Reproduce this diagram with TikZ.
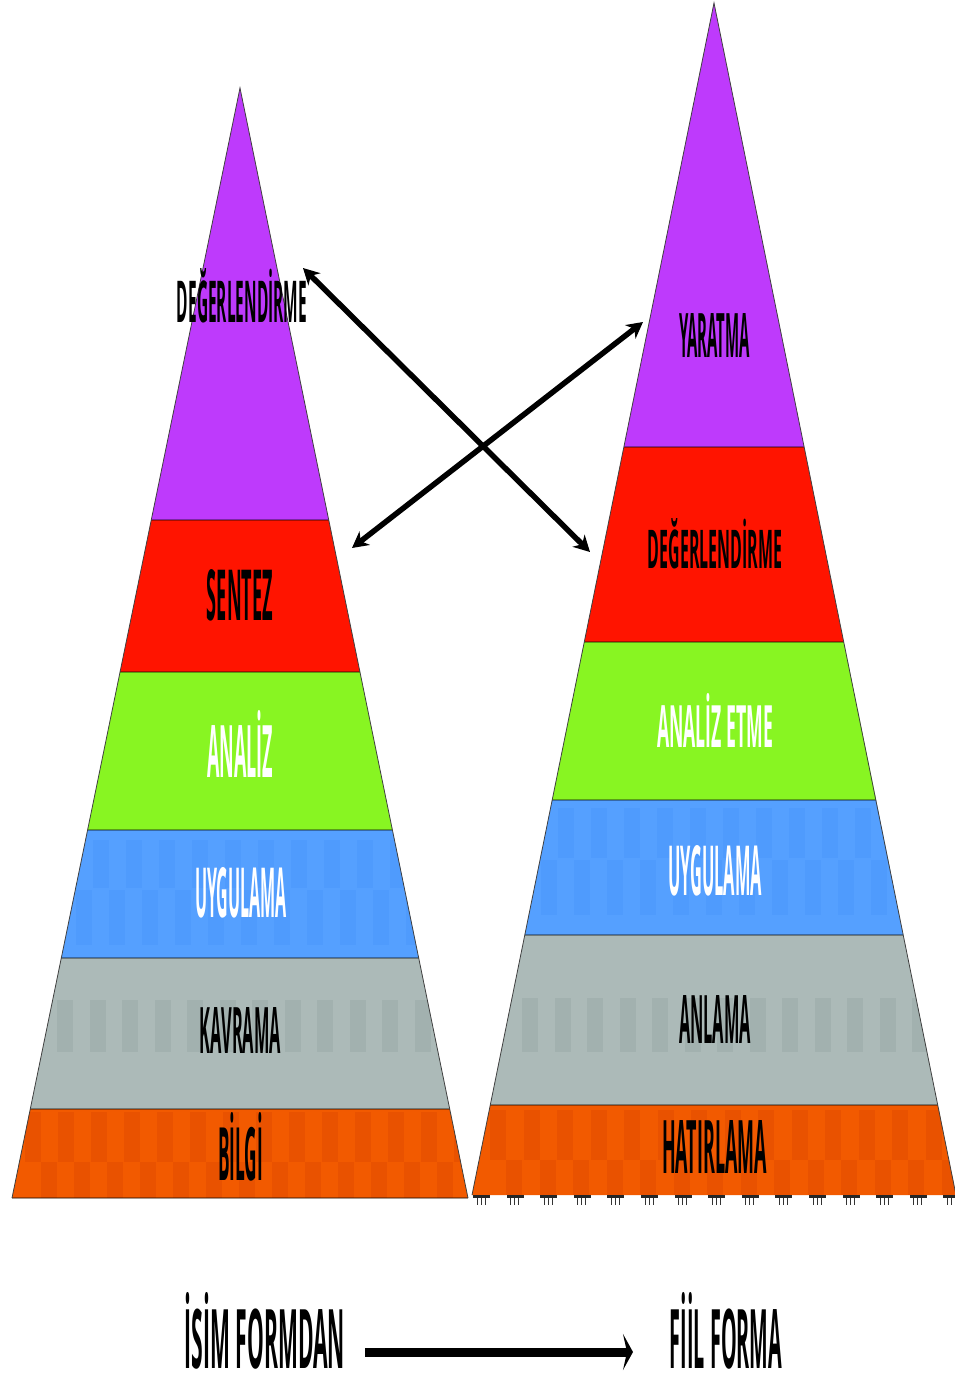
\documentclass[tikz,border=0pt]{standalone}
\usepackage{fontspec}
\setmainfont{Open Sans}
\usepackage{graphicx}
\usetikzlibrary{arrows.meta}
\definecolor{cPur}{RGB}{190,58,252}
\definecolor{cRed}{RGB}{255,20,0}
\definecolor{cGrn}{RGB}{136,245,34}
\definecolor{cBlu}{RGB}{85,160,255}
\definecolor{cBluD}{RGB}{79,155,253}
\definecolor{cGry}{RGB}{172,186,184}
\definecolor{cGryD}{RGB}{162,177,175}
\definecolor{cOrg}{RGB}{242,90,0}
\definecolor{cOrgD}{RGB}{233,82,0}
\newcommand\fitlbl[3]{\resizebox{#1pt}{#2pt}{\bfseries #3}}
\tikzset{
  lbl/.style={inner sep=0pt, anchor=base},
  bnd/.style={line width=2pt, black, opacity=0.35},
  edge/.style={line width=0.8pt, black!75},
  dbl/.style={line width=5.5pt, {Stealth[length=16pt,width=17pt,inset=5pt]}-{Stealth[length=16pt,width=17pt,inset=5pt]}},
  big/.style={line width=9pt, -{Stealth[length=10pt,width=36pt,inset=4pt]}}
}
\begin{document}
\begin{tikzpicture}[x=1pt,y=-1pt]
\useasboundingbox (0,0) rectangle (955,1377);
% ---------- left pyramid ----------
\fill[cPur] (240,88) -- (328.73,520) -- (151.27,520) -- cycle;
\fill[cRed] (151.27,520) -- (328.73,520) -- (359.96,672) -- (120.04,672) -- cycle;
\fill[cGrn] (120.04,672) -- (359.96,672) -- (392.41,830) -- (87.59,830) -- cycle;
\fill[cBlu] (87.59,830) -- (392.41,830) -- (418.70,958) -- (61.30,958) -- cycle;
\fill[cGry] (61.30,958) -- (418.70,958) -- (449.72,1109) -- (30.28,1109) -- cycle;
\fill[cOrg] (30.28,1109) -- (449.72,1109) -- (468,1198) -- (12,1198) -- cycle;
\begin{scope}
  \clip (87.59,830) -- (392.41,830) -- (418.70,958) -- (61.30,958) -- cycle;
  \foreach \i in {0,...,22} \fill[cBluD] ({60+16.5*2*\i},840) rectangle ++(16,48);
  \foreach \i in {0,...,22} \fill[cBluD] ({76+16.5*2*\i},890) rectangle ++(16,55);
\end{scope}
\begin{scope}
  \clip (61.30,958) -- (418.70,958) -- (449.72,1109) -- (30.28,1109) -- cycle;
  \foreach \i in {0,...,12} \fill[cGryD] ({57+32.5*\i},1000) rectangle ++(16,52);
\end{scope}
\begin{scope}
  \clip (30.28,1109) -- (449.72,1109) -- (468,1198) -- (12,1198) -- cycle;
  \foreach \i in {0,...,14} \fill[cOrgD] ({25+33*\i},1112) rectangle ++(16,50);
  \foreach \i in {0,...,14} \fill[cOrgD] ({41+33*\i},1162) rectangle ++(16,36);
\end{scope}
\draw[bnd] (151.27,520) -- (328.73,520);
\draw[bnd] (120.04,672) -- (359.96,672);
\draw[bnd] (87.59,830) -- (392.41,830);
\draw[bnd] (61.30,958) -- (418.70,958);
\draw[bnd] (30.28,1109) -- (449.72,1109);
\draw[bnd] (12,1198) -- (468,1198);
\draw[edge] (12,1198) -- (240,88) -- (468,1198);
% ---------- right pyramid ----------
\fill[cPur] (714,3) -- (804.14,447) -- (623.86,447) -- cycle;
\fill[cRed] (623.86,447) -- (804.14,447) -- (843.73,642) -- (584.27,642) -- cycle;
\fill[cGrn] (584.27,642) -- (843.73,642) -- (876.19,800) -- (552.19,800) -- cycle;
\fill[cBlu] (552.19,800) -- (876.19,800) -- (903.21,935) -- (524.79,935) -- cycle;
\fill[cGry] (524.79,935) -- (903.21,935) -- (937.73,1105) -- (490.27,1105) -- cycle;
\fill[cOrg] (490.27,1105) -- (937.73,1105) -- (956,1195) -- (472,1195) -- cycle;
\begin{scope}
  \clip (552.19,800) -- (876.19,800) -- (903.21,935) -- (524.79,935) -- cycle;
  \foreach \i in {0,...,22} \fill[cBluD] ({525+16.5*2*\i},808) rectangle ++(16,50);
  \foreach \i in {0,...,22} \fill[cBluD] ({541+16.5*2*\i},860) rectangle ++(16,55);
\end{scope}
\begin{scope}
  \clip (524.79,935) -- (903.21,935) -- (937.73,1105) -- (490.27,1105) -- cycle;
  \foreach \i in {0,...,13} \fill[cGryD] ({522+32.5*\i},998) rectangle ++(16,54);
\end{scope}
\begin{scope}
  \clip (490.27,1105) -- (937.73,1105) -- (956,1195) -- (472,1195) -- cycle;
  \foreach \i in {0,...,15} \fill[cOrgD] ({490+33.5*\i},1110) rectangle ++(16,50);
  \foreach \i in {0,...,15} \fill[cOrgD] ({506+33.5*\i},1160) rectangle ++(16,35);
\end{scope}
\draw[bnd] (623.86,447) -- (804.14,447);
\draw[bnd] (584.27,642) -- (843.73,642);
\draw[bnd] (552.19,800) -- (876.19,800);
\draw[bnd] (524.79,935) -- (903.21,935);
\draw[bnd] (490.27,1105) -- (937.73,1105);
\draw[edge] (472,1195) -- (714,3) -- (956,1195);
\foreach \i in {0,...,14} {
  \fill[black!85] ({473+33.6*\i},1195) rectangle ++(17,3);
  \foreach \j in {4,8,12} \draw[black!80, line width=0.9pt] ({473+33.6*\i+\j},1198) -- ++(0,7);
}
% ---------- left labels ----------
\node[lbl] (lDeg) at (242,322) {\fitlbl{130}{54}{DEĞERLENDİRME}};
\node[lbl] (lSen) at (240,620) {\fitlbl{66}{51}{SENTEZ}};
\node[lbl, white] (lAna) at (240,777) {\fitlbl{66}{67}{ANALİZ}};
\node[lbl, white] (lUyg) at (241,917) {\fitlbl{92}{50}{UYGULAMA}};
\node[lbl] (lKav) at (240.5,1053) {\fitlbl{81}{46}{KAVRAMA}};
\node[lbl] (lBil) at (240.5,1180) {\fitlbl{45}{68}{BİLGİ}};
% ---------- right labels ----------
\node[lbl] (rYar) at (714.5,357) {\fitlbl{71}{44}{YARATMA}};
\node[lbl] (rDeg) at (715,568) {\fitlbl{134}{50}{DEĞERLENDİRME}};
\node[lbl, white] (rAna) at (715,747) {\fitlbl{116}{54}{ANALİZ ETME}};
\node[lbl, white] (rUyg) at (715,895) {\fitlbl{94}{50}{UYGULAMA}};
\node[lbl] (rAnl) at (715,1043) {\fitlbl{72}{48}{ANLAMA}};
\node[lbl] (rHat) at (714.5,1173) {\fitlbl{105}{53}{HATIRLAMA}};
% ---------- crossing arrows ----------
\coordinate (a1s) at (303,268);
\coordinate (a1e) at (590,552);
\coordinate (a2s) at (352,548);
\coordinate (a2e) at (643,322);
\draw[dbl] (a1s) -- (a1e);
\draw[dbl] (a2s) -- (a2e);
% ---------- bottom ----------
\node[lbl] (isim) at (265,1368) {\fitlbl{160}{76}{İSİM FORMDAN}};
\node[lbl] (fiil) at (726,1368) {\fitlbl{112}{76}{FİİL FORMA}};
\coordinate (b1) at (365,1352);
\coordinate (b2) at (633,1352);
\draw[big] (b1) -- (b2);
\end{tikzpicture}
\end{document}
